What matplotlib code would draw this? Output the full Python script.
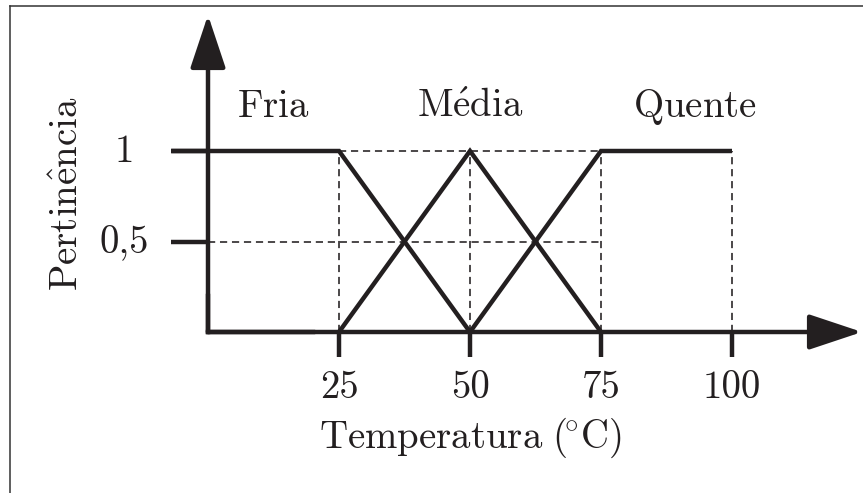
"""
Fuzzy membership functions for temperature (Fria / Media / Quente).
Saves out.png
"""

import matplotlib
matplotlib.use('Agg')
import matplotlib.pyplot as plt
from matplotlib.lines import Line2D
from matplotlib import markers

plt.rcParams['mathtext.fontset'] = 'cm'
plt.rcParams['font.family'] = ['cmr10', 'DejaVu Serif']
plt.rcParams['axes.unicode_minus'] = False

# Data
fria_x = [-7, 25, 50]
fria_y = [1, 1, 0]
media_x = [25, 50, 75]
media_y = [0, 1, 0]
quente_x = [50, 75, 100]
quente_y = [0, 1, 1]

set_names = [r'$\mathrm{Fria}$', r'$\mathrm{M\acute{e}dia}$', r'$\mathrm{Quente}$']
set_centers = [12.5, 50, 93]

x_ticks = [25, 50, 75, 100]
x_tick_labels = ['25', '50', '75', '100']
y_ticks = [0.5, 1]
y_tick_labels = ['0,5', '1']

xlabel = r'$\mathrm{Temperatura\ (}\!{}^{\circ}\mathrm{C)}$'
ylabel = r'$\mathrm{Pertin\hat{e}ncia}$'

# Style
INK = '#231f20'
LW = 3.2
FS = 28

fig = plt.figure(figsize=(8.63, 4.93), dpi=100)
ax = fig.add_axes([0, 0, 1, 1])
# pixel mapping: x=0 -> 208px, 25 units -> 131px ; y=0 -> 332px, 1 -> 151px
ax.set_xlim(-208 / 5.24, (863 - 208) / 5.24)
ax.set_ylim((332 - 493) / 181, 332 / 181)
ax.axis('off')

# dashed guides
for xt in x_ticks:
    ax.plot([xt, xt], [0, 1], color=INK, lw=1.15, dashes=(4.5, 3), zorder=1)
ax.plot([25, 100], [1, 1], color=INK, lw=1.15, dashes=(4.5, 3), zorder=1)
ax.plot([0, 75], [0.5, 0.5], color=INK, lw=1.15, dashes=(4.5, 3), zorder=1)

# membership functions
for xs, ys in [(fria_x, fria_y), (media_x, media_y), (quente_x, quente_y)]:
    ax.plot(xs, ys, color=INK, lw=LW, solid_joinstyle='miter',
            solid_capstyle='butt', zorder=3)

# axes with arrows
x_tip = (862 - 208) / 5.24
y_tip = (332 - 15) / 181
arrow_style = '-|>,head_length=3.3,head_width=1.1'
ax.annotate('', xy=(x_tip, 0), xytext=(0, 0),
            arrowprops=dict(arrowstyle=arrow_style, mutation_scale=10, lw=LW,
                            color=INK, shrinkA=0, shrinkB=0), zorder=4)
ax.annotate('', xy=(0, y_tip), xytext=(0, 0),
            arrowprops=dict(arrowstyle=arrow_style, mutation_scale=10, lw=LW,
                            color=INK, shrinkA=0, shrinkB=0), zorder=4)
ax.plot([0, 0], [0, 0.2], color=INK, lw=LW, solid_capstyle='projecting', zorder=4)
ax.plot([0, 20], [0, 0], color=INK, lw=LW, solid_capstyle='projecting', zorder=4)

# ticks
ax.plot(x_ticks, [0] * len(x_ticks), ls='none', marker=markers.TICKDOWN,
        markersize=18, mew=LW, color=INK, zorder=4)
ax.plot([0] * len(y_ticks), y_ticks, ls='none', marker=markers.TICKLEFT,
        markersize=27, mew=LW, color=INK, zorder=4)

# tick labels
for xt, lab in zip(x_ticks, x_tick_labels):
    ax.text(xt, -0.365, lab, ha='center', va='baseline', fontsize=FS, color=INK)
for yt, lab in zip(y_ticks, y_tick_labels):
    ax.text(-16.0, yt - 0.063, lab, ha='center', va='baseline', fontsize=FS, color=INK)

# set names
for cx, name in zip(set_centers, set_names):
    ax.text(cx, 1.188, name, ha='center', va='baseline', fontsize=FS, color=INK)

# axis labels
ax.text(50, -0.641, xlabel, ha='center', va='baseline', fontsize=FS, color=INK)
ax.text(-26.7, 0.762, ylabel, ha='center', va='center', rotation=90,
        fontsize=FS, color=INK)

# frame (left and top edges)
fig.add_artist(Line2D([9.5 / 863, 9.5 / 863], [0, 1 - 5.5 / 493],
                      transform=fig.transFigure, color='#333333', lw=1.1))
fig.add_artist(Line2D([9.5 / 863, 1], [1 - 5.5 / 493, 1 - 5.5 / 493],
                      transform=fig.transFigure, color='#333333', lw=1.1))

fig.savefig('out.png', dpi=100)
plt.close(fig)
